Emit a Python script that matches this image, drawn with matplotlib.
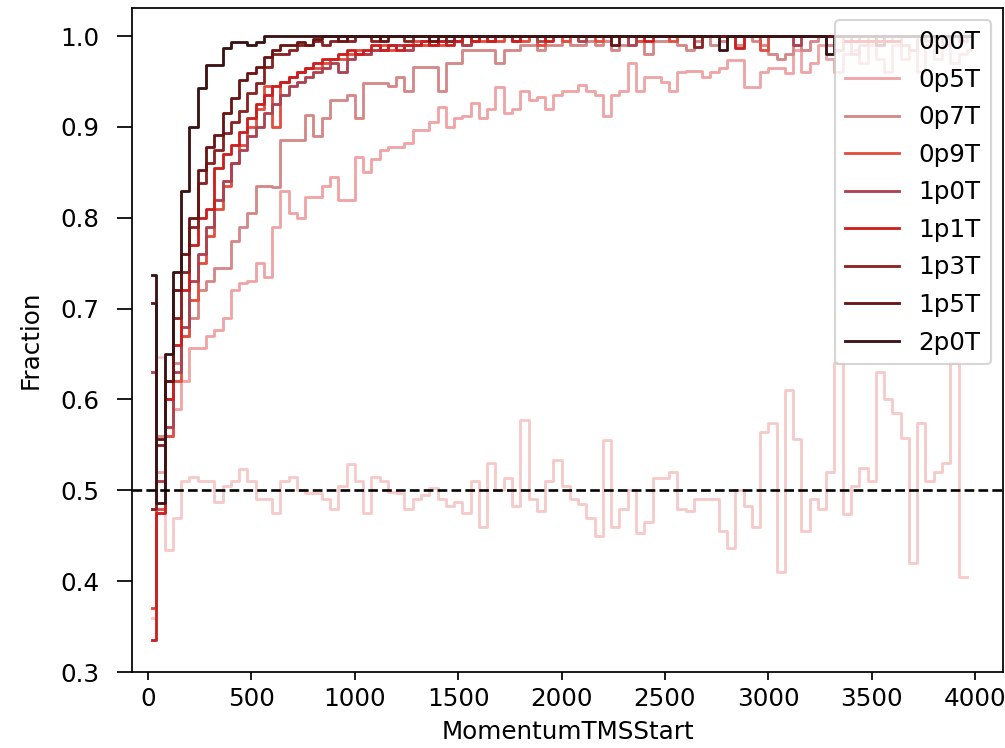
import numpy as np
import matplotlib
matplotlib.use("Agg")
import matplotlib.pyplot as plt

nan = np.nan

# bin centres (40-unit bins from 0 to 4000)
centers = np.arange(20, 4000, 40)

labels = ["0p0T", "0p5T", "0p7T", "0p9T", "1p0T", "1p1T", "1p3T", "1p5T", "2p0T"]
colors = ["#f7caca", "#efa5a5", "#d58888", "#e24f40", "#ad4350",
          "#cc2020", "#8a2424", "#6a1414", "#3a1414"]

frac_0p0T = [
    0.36, 0.647, 0.434, 0.47, 0.51, 0.515, 0.51, 0.51, 0.487, 0.505,
    0.51, 0.524, 0.51, 0.49, 0.49, 0.475, 0.51, 0.515, 0.50, 0.497,
    0.497, 0.49, 0.48, 0.505, 0.529, 0.51, 0.475, 0.515, 0.51, 0.498,
    0.497, 0.48, 0.49, 0.495, 0.503, 0.49, 0.483, 0.487, 0.475, 0.51,
    0.46, 0.53, 0.50, 0.514, 0.483, 0.577, 0.49, 0.477, 0.51, 0.533,
    0.505, 0.49, 0.485, 0.47, 0.45, 0.555, 0.46, 0.48, 0.50, 0.453,
    0.465, 0.514, 0.514, 0.52, 0.48, 0.477, 0.49, 0.49, 0.49, 0.455,
    0.437, 0.50, 0.483, 0.46, 0.564, 0.574, 0.41, 0.61, 0.557, 0.455,
    0.49, 0.48, 0.52, 0.64, 0.474, 0.505, 0.525, 0.51, 0.63, 0.60,
    0.585, 0.558, 0.42, 0.574, 0.51, 0.52, 0.53, 0.64, 0.405, nan]

frac_0p5T = [
    0.37, 0.52, 0.56, 0.59, 0.62, 0.657, 0.657, 0.67, 0.676, 0.69,
    0.72, 0.728, 0.73, 0.75, 0.735, 0.79, 0.83, 0.805, 0.80, 0.823,
    0.823, 0.835, 0.845, 0.82, 0.82, 0.867, 0.85, 0.865, 0.875, 0.878,
    0.878, 0.882, 0.897, 0.897, 0.905, 0.922, 0.90, 0.91, 0.912, 0.926,
    0.91, 0.92, 0.944, 0.915, 0.92, 0.94, 0.93, 0.933, 0.92, 0.935,
    0.94, 0.94, 0.946, 0.94, 0.935, 0.912, 0.935, 0.94, 0.97, 0.94,
    0.955, 0.955, 0.95, 0.94, 0.96, 0.962, 0.962, 0.955, 0.96, 0.965,
    0.974, 0.974, 0.944, 0.944, 0.96, 0.965, 0.965, 0.959, 0.985, 0.96,
    0.97, 0.99, 0.975, 0.96, 0.98, 0.985, 0.97, 0.99, 0.975, 0.96,
    0.99, 0.975, 0.985, 0.96, 0.99, 0.975, 0.99, 0.97, 0.98, 0.985]

frac_0p7T = [
    0.48, 0.56, 0.60, 0.64, 0.67, 0.69, 0.72, 0.73, 0.745, 0.745,
    0.775, 0.79, 0.805, 0.835, 0.835, 0.834, 0.886, 0.886, 0.886, 0.913,
    0.89, 0.91, 0.93, 0.93, 0.935, 0.91, 0.948, 0.948, 0.948, 0.945,
    0.955, 0.94, 0.966, 0.966, 0.966, 0.94, 0.97, 0.97, 0.985, 0.985,
    0.985, 0.985, 0.97, 0.985, 0.985, 0.99, 0.99, 0.985, 0.99, 0.99,
    0.995, 0.99, 0.99, 0.995, 0.99, 0.995, 0.985, 0.99, 1.0, 0.995,
    0.98, 0.995, 0.995, 1.0, 0.99, 0.985, 0.995, 1.0, 0.99, 0.995,
    1.0, 0.99, 1.0, 0.995, 0.99, 0.98, 0.975, 0.98, 0.99, 0.985,
    0.995, 1.0, 0.99, 0.985, 1.0, 0.98, 0.99, 1.0, 0.99, 0.995,
    1.0, 0.99, 0.985, 1.0, 0.995, 1.0, 0.99, 1.0, 0.995, 1.0]

frac_0p9T = [
    0.37, 0.48, 0.56, 0.62, 0.67, 0.71, 0.75, 0.78, 0.81, 0.835,
    0.86, 0.88, 0.90, 0.92, 0.945, 0.90, 0.95, 0.955, 0.96, 0.965,
    0.965, 0.97, 0.975, 0.975, 0.98, 0.985, 0.98, 0.985, 0.99, 0.985,
    0.99, 0.99, 0.995, 0.99, 0.995, 0.99, 1.0, 0.995, 0.99, 1.0,
    0.995, 1.0, 0.995, 1.0, 1.0, 0.995, 1.0, 0.99, 1.0, 1.0,
    0.995, 1.0, 1.0, 1.0, 0.995, 1.0, 1.0, 1.0, 1.0, 0.995,
    1.0, 1.0, 1.0, 0.995, 1.0, 1.0, 1.0, 1.0, 1.0, 1.0,
    1.0, 1.0, 1.0, 1.0, 0.985, 1.0, 1.0, 1.0, 1.0, 1.0,
    1.0, 1.0, 1.0, 1.0, 1.0, 0.995, 1.0, 1.0, 1.0, 1.0,
    1.0, 1.0, 1.0, 1.0, 1.0, 1.0, 1.0, 1.0, 1.0, 1.0]

frac_1p0T = [
    0.63, 0.51, 0.57, 0.63, 0.68, 0.73, 0.76, 0.79, 0.82, 0.84,
    0.86, 0.875, 0.89, 0.90, 0.915, 0.925, 0.935, 0.945, 0.95, 0.955,
    0.96, 0.965, 0.97, 0.96, 0.975, 0.98, 0.98, 0.985, 0.985, 0.99,
    0.99, 0.985, 0.99, 0.995, 0.99, 0.995, 0.995, 1.0, 0.99, 0.995,
    1.0, 0.995, 1.0, 1.0, 0.995, 1.0, 1.0, 0.995, 1.0, 1.0,
    1.0, 1.0, 0.995, 1.0, 1.0, 1.0, 1.0, 1.0, 0.99, 1.0,
    1.0, 1.0, 1.0, 1.0, 1.0, 1.0, 1.0, 1.0, 1.0, 1.0,
    1.0, 1.0, 1.0, 1.0, 1.0, 1.0, 1.0, 1.0, 0.99, 1.0,
    1.0, 1.0, 1.0, 1.0, 1.0, 1.0, 1.0, 1.0, 1.0, 1.0,
    1.0, 1.0, 1.0, 1.0, 1.0, 1.0, 1.0, 1.0, 1.0, 1.0]

frac_1p1T = [
    0.335, 0.475, 0.60, 0.66, 0.72, 0.77, 0.80, 0.81, 0.855, 0.87,
    0.88, 0.895, 0.91, 0.925, 0.935, 0.945, 0.95, 0.955, 0.96, 0.965,
    0.97, 0.975, 0.975, 0.98, 0.985, 0.98, 0.985, 0.99, 0.985, 0.99,
    0.985, 0.99, 0.99, 0.995, 0.99, 0.995, 0.99, 0.995, 1.0, 0.995,
    1.0, 0.995, 1.0, 1.0, 0.995, 1.0, 1.0, 1.0, 0.995, 1.0,
    1.0, 1.0, 1.0, 1.0, 1.0, 1.0, 1.0, 1.0, 1.0, 1.0,
    0.995, 1.0, 1.0, 1.0, 1.0, 1.0, 1.0, 1.0, 1.0, 1.0,
    1.0, 0.987, 1.0, 1.0, 1.0, 1.0, 1.0, 1.0, 1.0, 1.0,
    1.0, 1.0, 1.0, 1.0, 1.0, 1.0, 1.0, 1.0, 1.0, 1.0,
    1.0, 1.0, 1.0, 1.0, 1.0, 1.0, 1.0, 1.0, 1.0, 1.0]

frac_1p3T = [
    0.48, 0.55, 0.62, 0.69, 0.74, 0.79, 0.838, 0.86, 0.875, 0.893,
    0.905, 0.918, 0.937, 0.948, 0.966, 0.98, 0.98, 0.985, 0.99, 0.99,
    0.995, 0.99, 0.995, 1.0, 0.995, 1.0, 1.0, 0.995, 1.0, 1.0,
    1.0, 0.995, 1.0, 1.0, 1.0, 1.0, 0.995, 1.0, 1.0, 1.0,
    1.0, 1.0, 1.0, 1.0, 1.0, 1.0, 1.0, 1.0, 1.0, 1.0,
    1.0, 1.0, 1.0, 1.0, 1.0, 1.0, 1.0, 1.0, 1.0, 1.0,
    1.0, 1.0, 1.0, 1.0, 1.0, 1.0, 0.988, 1.0, 1.0, 1.0,
    1.0, 1.0, 1.0, 1.0, 1.0, 1.0, 1.0, 1.0, 1.0, 1.0,
    1.0, 1.0, 1.0, 1.0, 1.0, 1.0, 1.0, 1.0, 0.99, 1.0,
    1.0, 1.0, 1.0, 1.0, 1.0, 1.0, 1.0, 1.0, 1.0, 1.0]

frac_1p5T = [
    0.706, 0.557, 0.62, 0.72, 0.76, 0.80, 0.853, 0.878, 0.891, 0.915,
    0.932, 0.952, 0.959, 0.966, 0.977, 0.985, 0.99, 0.99, 0.994, 0.99,
    0.997, 1.0, 1.0, 0.995, 1.0, 1.0, 1.0, 1.0, 0.995, 1.0,
    1.0, 1.0, 1.0, 1.0, 0.995, 1.0, 1.0, 1.0, 1.0, 1.0,
    1.0, 1.0, 1.0, 1.0, 1.0, 1.0, 1.0, 1.0, 1.0, 1.0,
    1.0, 1.0, 1.0, 1.0, 1.0, 1.0, 0.99, 1.0, 1.0, 1.0,
    1.0, 1.0, 1.0, 1.0, 1.0, 1.0, 1.0, 1.0, 1.0, 1.0,
    1.0, 1.0, 1.0, 1.0, 1.0, 1.0, 1.0, 1.0, 1.0, 1.0,
    1.0, 1.0, 1.0, 1.0, 1.0, 1.0, 1.0, 1.0, 1.0, 1.0,
    1.0, 1.0, 1.0, 1.0, 1.0, 1.0, 1.0, 1.0, 1.0, 1.0]

frac_2p0T = [
    0.737, 0.486, 0.65, 0.74, 0.83, 0.90, 0.943, 0.968, 0.968, 0.987,
    0.994, 0.994, 0.99, 0.994, 1.0, 1.0, 1.0, 1.0, 1.0, 1.0,
    1.0, 1.0, 1.0, 1.0, 1.0, 1.0, 1.0, 1.0, 1.0, 1.0,
    1.0, 1.0, 1.0, 1.0, 1.0, 1.0, 1.0, 1.0, 1.0, 1.0,
    1.0, 1.0, 1.0, 1.0, 1.0, 1.0, 1.0, 1.0, 1.0, 1.0,
    1.0, 1.0, 1.0, 1.0, 1.0, 1.0, 1.0, 1.0, 1.0, 1.0,
    1.0, 1.0, 1.0, 1.0, 1.0, 1.0, 1.0, 1.0, 1.0, 0.985,
    1.0, 1.0, 1.0, 1.0, 1.0, 1.0, 1.0, 1.0, 1.0, 1.0,
    1.0, 1.0, 0.98, 1.0, 1.0, 1.0, 1.0, 1.0, 1.0, 1.0,
    1.0, 1.0, 1.0, 1.0, 1.0, 1.0, 1.0, 1.0, 1.0, 1.0]

series = [frac_0p0T, frac_0p5T, frac_0p7T, frac_0p9T, frac_1p0T,
          frac_1p1T, frac_1p3T, frac_1p5T, frac_2p0T]

plt.rcParams['font.size'] = 11.3

fig = plt.figure(figsize=(1005 / 157, 748 / 157), dpi=157)
ax = fig.add_axes([0.1313, 0.1016, 0.8667, 0.8877])

for vals, lab, col in zip(series, labels, colors):
    ax.step(centers, vals, where='mid', color=col, label=lab, lw=1.3)

ax.axhline(0.5, color='k', ls='--', lw=1.2)

ax.set_xlim(-78, 4135)
ax.set_ylim(0.3, 1.031)
ax.tick_params(axis='y', length=7, pad=8)
ax.set_xlabel('MomentumTMSStart')
ax.set_ylabel('Fraction', labelpad=8)
ax.legend(loc='upper right', labelspacing=0.55, handlelength=2.2)

fig.savefig('out.png', dpi=157)
